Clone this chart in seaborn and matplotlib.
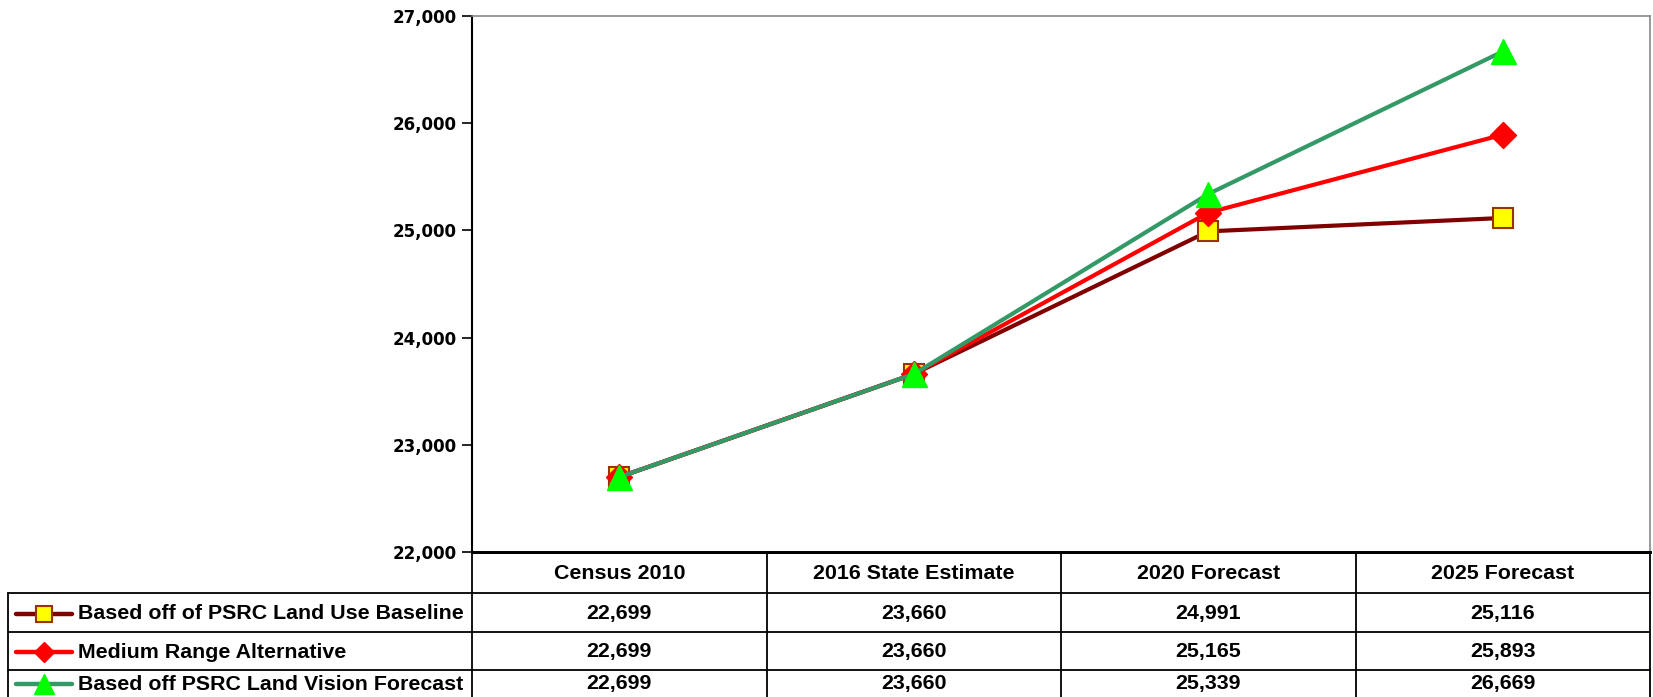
import numpy as np
import pandas as pd
import matplotlib
matplotlib.use("Agg")
import matplotlib.pyplot as plt
import seaborn as sns

categories = ["Census 2010", "2016 State Estimate", "2020 Forecast", "2025 Forecast"]
series_names = ["Based off of PSRC Land Use Baseline",
                "Medium Range Alternative",
                "Based off PSRC Land Vision Forecast"]
baseline = [22699, 23660, 24991, 25116]
medium = [22699, 23660, 25165, 25893]
vision = [22699, 23660, 25339, 26669]
y_ticks = [22000, 23000, 24000, 25000, 26000, 27000]

sns.set_theme(style="white")
plt.rcParams['font.family'] = ['DejaVu Sans']

W, H = 1653, 697
fig = plt.figure(figsize=(W / 100, H / 100), dpi=100)

left_px, right_px, top_px, bottom_px = 472, 1650, 16, 552
ax = fig.add_axes([left_px / W, 1 - bottom_px / H, (right_px - left_px) / W, (bottom_px - top_px) / H])

styles = [
    dict(color="#800000", marker="s", mfc="#FFFF00", mec="#993300", ms=15, mew=1.5),
    dict(color="#FF0000", marker="D", mfc="#FF0000", mec="#FF0000", ms=13, mew=1),
    dict(color="#339966", marker="^", mfc="#00FF00", mec="#00FF00", ms=18, mew=1),
]
series_vals = [baseline, medium, vision]

xpos = np.arange(len(categories))
df = pd.DataFrame({"x": np.tile(xpos, 3),
                   "y": np.concatenate(series_vals),
                   "series": np.repeat(series_names, len(categories))})

for name, st in zip(series_names, styles):
    sub = df[df.series == name]
    sns.lineplot(data=sub, x="x", y="y", ax=ax, color=st["color"], lw=3.0,
                 marker=st["marker"], markersize=st["ms"], markerfacecolor=st["mfc"],
                 markeredgecolor=st["mec"], markeredgewidth=st["mew"], legend=False,
                 zorder=3)

ax.set_xlim(-0.5, len(categories) - 0.5)
ax.set_ylim(22000, 27000)
ax.set_yticks(y_ticks)
ax.set_yticklabels([f"{v:,}" for v in y_ticks], fontsize=12, fontweight="bold", color="black")
ax.set_xticks([])
ax.set_xlabel("")
ax.set_ylabel("")
ax.tick_params(axis="y", direction="out", length=7, width=1.2, color="black", pad=4, left=True)
for s in ["top", "right"]:
    ax.spines[s].set_color("#888888")
    ax.spines[s].set_linewidth(1.2)
ax.spines["left"].set_color("black")
ax.spines["left"].set_linewidth(1.5)
ax.spines["bottom"].set_color("black")
ax.spines["bottom"].set_linewidth(2)

# data table in pixel coordinates
tax = fig.add_axes([0, 0, 1, 1], facecolor="none")
tax.set_xlim(0, W)
tax.set_ylim(H, 0)
tax.axis("off")

row_edges = [552, 593, 632, 670]
col_w = (right_px - left_px) / len(categories)
col_edges = [left_px + i * col_w for i in range(len(categories) + 1)]
table_left = 8
lc = "black"
lw = 1.3
tax.plot([left_px, right_px], [row_edges[0]] * 2, color=lc, lw=2)
for r in row_edges[1:]:
    tax.plot([table_left, right_px], [r, r], color=lc, lw=lw)
tax.plot([table_left, table_left], [row_edges[1], H], color=lc, lw=lw)
for c in col_edges:
    tax.plot([c, c], [row_edges[0], H], color=lc, lw=lw)

tfont = dict(family=["Liberation Sans", "DejaVu Sans"], fontweight="bold", fontsize=15.4, color="black")
for i, cat in enumerate(categories):
    tax.text((col_edges[i] + col_edges[i + 1]) / 2, (row_edges[0] + row_edges[1]) / 2 + 1, cat,
             ha="center", va="center", **tfont)
row_centers = [(row_edges[1] + row_edges[2]) / 2 + 1, (row_edges[2] + row_edges[3]) / 2 + 1, 684]
for j, (name, vals, st) in enumerate(zip(series_names, series_vals, styles)):
    yc = row_centers[j]
    tax.plot([16, 72], [yc, yc], color=st["color"], lw=3.2)
    tax.plot([44], [yc], marker=st["marker"], ms=st["ms"] * 0.8, mfc=st["mfc"], mec=st["mec"],
             mew=st["mew"], ls="none")
    tax.text(78, yc, name, ha="left", va="center", **tfont)
    for i, v in enumerate(vals):
        tax.text((col_edges[i] + col_edges[i + 1]) / 2, yc, f"{v:,}", ha="center", va="center", **tfont)

fig.savefig("out.png", dpi=100)
